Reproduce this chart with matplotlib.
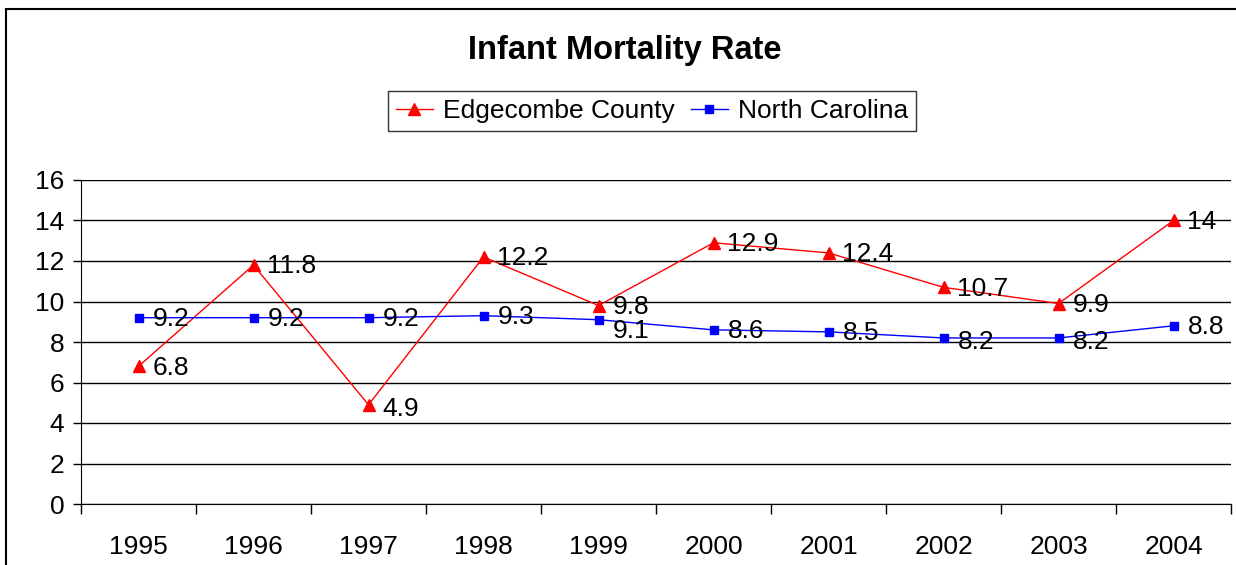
import numpy as np
import matplotlib.pyplot as plt
from matplotlib.patches import Rectangle

plt.rcParams['font.family'] = ['Liberation Sans', 'DejaVu Sans']

years = ['1995', '1996', '1997', '1998', '1999', '2000', '2001', '2002', '2003', '2004']
edgecombe = [6.8, 11.8, 4.9, 12.2, 9.8, 12.9, 12.4, 10.7, 9.9, 14]
north_carolina = [9.2, 9.2, 9.2, 9.3, 9.1, 8.6, 8.5, 8.2, 8.2, 8.8]

fig = plt.figure(figsize=(12.36, 5.65), dpi=100)
ax = fig.add_axes([81 / 1236, 1 - 504 / 565, 1150 / 1236, 324 / 565])

x = np.arange(len(years))
ax.plot(x, edgecombe, color='red', lw=1, marker='^', ms=8.5, label='Edgecombe County', zorder=3)
ax.plot(x, north_carolina, color='blue', lw=1, marker='s', ms=6, label='North Carolina', zorder=3)

# data labels, right of the points (a couple nudged down like the original)
fs = 19
nudge_e = {2: -3}
nudge_nc = {4: -8, 7: -3, 8: -3, 6: -1}
for i, v in enumerate(edgecombe):
    ax.annotate(f'{v:g}', (x[i], v), xytext=(10, nudge_e.get(i, -1)), textcoords='offset points',
                ha='left', va='center', fontsize=fs)
for i, v in enumerate(north_carolina):
    ax.annotate(f'{v:g}', (x[i], v), xytext=(10, nudge_nc.get(i, -1)), textcoords='offset points',
                ha='left', va='center', fontsize=fs)

ax.set_xlim(-0.5, len(years) - 0.5)
ax.set_ylim(0, 16)
ax.set_yticks(range(0, 17, 2))
ax.yaxis.grid(True, color='black', lw=1)
ax.set_axisbelow(True)
ax.tick_params(axis='y', length=6, width=1, labelsize=fs, pad=6)

ax.set_xticks(np.arange(-0.5, len(years)), labels=[])
ax.set_xticks(x, labels=years, minor=True)
ax.tick_params(axis='x', which='major', length=7, width=1)
ax.tick_params(axis='x', which='minor', length=0, labelsize=fs, pad=22)

ax.spines['top'].set_visible(False)
ax.spines['right'].set_visible(False)

fig.text(625 / 1236, 1 - 50 / 565, 'Infant Mortality Rate', ha='center', va='center',
         fontsize=23.5, fontweight='bold')
leg = fig.legend(loc='center', bbox_to_anchor=(652 / 1236, 1 - 111 / 565), ncol=2,
                 fontsize=fs, frameon=True, fancybox=False, edgecolor='black',
                 handlelength=1.4, handletextpad=0.4, columnspacing=0.6, borderpad=0.3)
leg.get_frame().set_linewidth(1)

# outer chart border
fig.patches.append(Rectangle((6 / 1236, -0.1), 1.2, 1 - 9 / 565 + 0.1, transform=fig.transFigure,
                             fill=False, edgecolor='black', lw=1.5))

fig.savefig('out.png', dpi=100)
